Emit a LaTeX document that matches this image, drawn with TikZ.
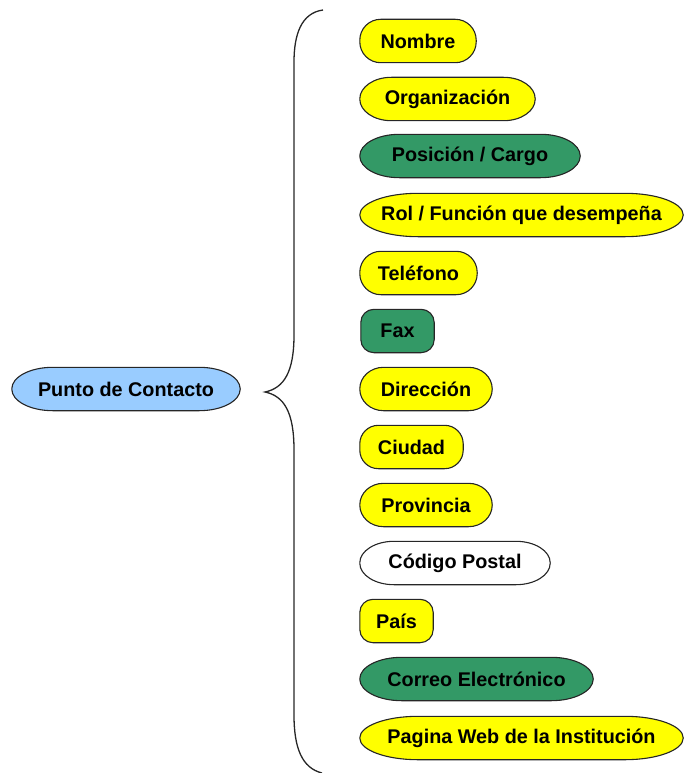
\documentclass[tikz,border=0pt]{standalone}
\usepackage{fontspec}
\setmainfont{Liberation Sans}
\pgfdeclarelayer{background}
\pgfsetlayers{background,main}
\definecolor{pyellow}{HTML}{FFFF00}
\definecolor{pgreen}{HTML}{339966}
\definecolor{pblue}{HTML}{99CCFF}
\definecolor{pwhite}{HTML}{FFFFFF}
\tikzset{
  pilltext/.style={inner sep=0pt, minimum height=43pt, font=\fontsize{19.8}{21}\selectfont\bfseries, text=black},
  pillline/.style={draw=black!85, line width=1.1pt},
  pillshadow/.style={fill=black!45, draw=none},
  bracestyle/.style={draw=black!85, line width=1.3pt}
}
\newcommand\pillpath[3]{% node, rx, ry
  ([xshift=#2pt]#1.north west) -- ([xshift=-#2pt]#1.north east)
  arc[start angle=90,end angle=0,x radius=#2pt,y radius=#3pt]
  -- ([yshift=#3pt]#1.south east)
  arc[start angle=0,end angle=-90,x radius=#2pt,y radius=#3pt]
  -- ([xshift=#2pt]#1.south west)
  arc[start angle=270,end angle=180,x radius=#2pt,y radius=#3pt]
  -- ([yshift=-#3pt]#1.north west)
  arc[start angle=180,end angle=90,x radius=#2pt,y radius=#3pt] -- cycle}
\newcommand\pill[6]{% name, left x, center y, width, fill, text
  \pgfmathsetmacro\rxv{0.18*#4}
  \pgfmathsetmacro\ryv{min(\rxv,21.5)}
  \node[pilltext, minimum width=#4pt] (#1) at ({#2+#4/2},{-#3}) {#6};
  \begin{pgfonlayer}{background}
    \path[pillshadow, shift={(1.6pt,-1.8pt)}] \pillpath{#1}{\rxv}{\ryv};
    \path[pillline, fill=#5] \pillpath{#1}{\rxv}{\ryv};
  \end{pgfonlayer}
}
\begin{document}
\begin{tikzpicture}[x=1pt,y=1pt]
\useasboundingbox (0,0) rectangle (685,-773);
\pill{punto}{12}{389}{228}{pblue}{Punto de Contacto}
\pill{nombre}{360}{41}{116}{pyellow}{Nombre}
\pill{org}{360}{99}{175}{pyellow}{Organización}
\pill{pos}{360}{156}{220}{pgreen}{Posición / Cargo}
\pill{rol}{360}{215}{323}{pyellow}{Rol / Función que desempeña}
\pill{tel}{360}{273}{117}{pyellow}{Teléfono}
\pill{fax}{361}{331}{73}{pgreen}{Fax}
\pill{dir}{360}{389}{132}{pyellow}{Dirección}
\pill{ciu}{360}{447}{103}{pyellow}{Ciudad}
\pill{prov}{360}{505}{132}{pyellow}{Provincia}
\pill{cp}{360}{563}{190}{pwhite}{Código Postal}
\pill{pais}{360}{621}{73}{pyellow}{País}
\pill{correo}{360}{679}{233}{pgreen}{Correo Electrónico}
\pill{web}{360}{738}{323}{pyellow}{Pagina Web de la Institución}
% brace
\draw[bracestyle] (323,-10) .. controls (301,-13) and (294,-35) .. (294,-62)
  -- (294,-335) .. controls (294,-372) and (284,-388) .. (265,-392)
  .. controls (284,-396) and (294,-412) .. (294,-450)
  -- (294,-715) .. controls (294,-748) and (302,-768) .. (322,-773);
\end{tikzpicture}
\end{document}
